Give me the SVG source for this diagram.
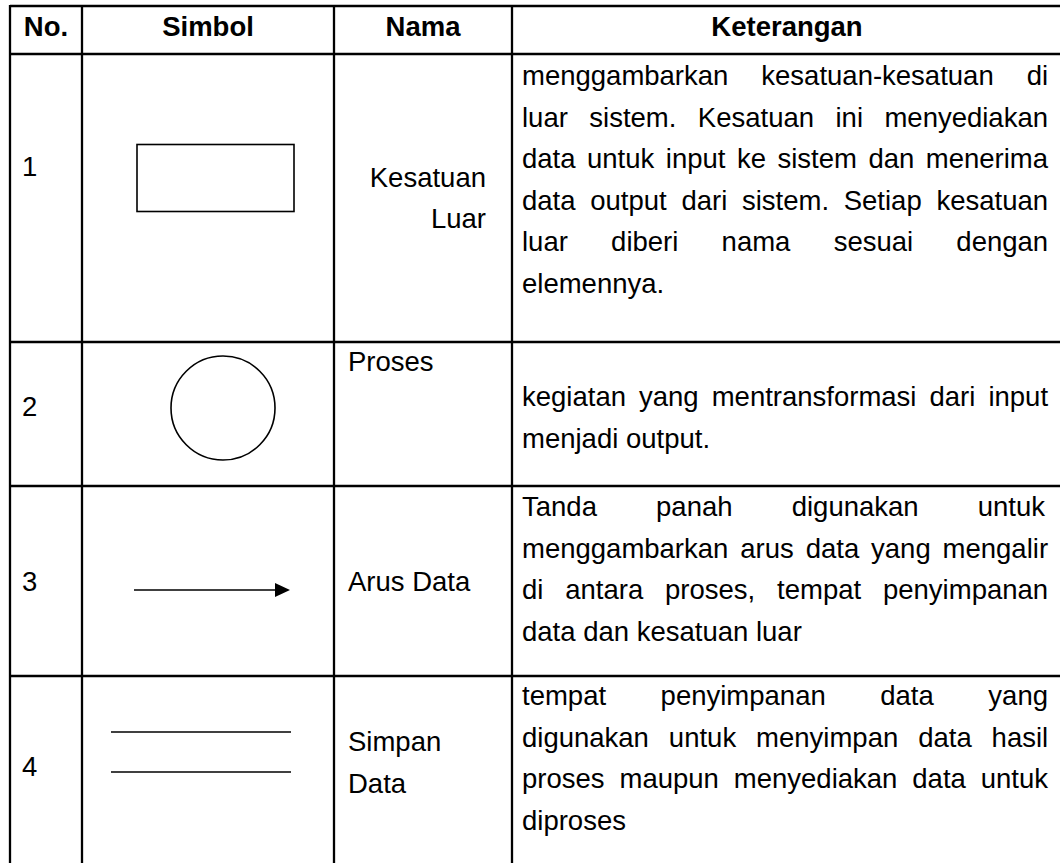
<svg xmlns="http://www.w3.org/2000/svg" width="1060" height="863" viewBox="0 0 1060 863">
<style>
.grid{stroke:#000;stroke-width:2.3;fill:none}
.sym{stroke:#000;stroke-width:1.6;fill:none}
text{font-family:"Liberation Sans",Arial,sans-serif;font-size:27.5px;fill:#000}
.h{font-weight:bold;text-anchor:middle}
</style>
<rect x="0" y="0" width="1060" height="863" fill="#fff"/>
<g id="grid">
<line class="grid" x1="10" y1="6" x2="1062" y2="6"/>
<line class="grid" x1="10" y1="54" x2="1062" y2="54"/>
<line class="grid" x1="10" y1="342" x2="1062" y2="342"/>
<line class="grid" x1="10" y1="486" x2="1062" y2="486"/>
<line class="grid" x1="10" y1="676" x2="1062" y2="676"/>
<line class="grid" x1="10" y1="5" x2="10" y2="863"/>
<line class="grid" x1="82" y1="5" x2="82" y2="863"/>
<line class="grid" x1="334" y1="5" x2="334" y2="863"/>
<line class="grid" x1="512" y1="5" x2="512" y2="863"/>
</g>
<g id="header">
<text class="h" x="46" y="36">No.</text>
<text class="h" x="208" y="36">Simbol</text>
<text class="h" x="423" y="36">Nama</text>
<text class="h" x="787" y="36">Keterangan</text>
</g>
<g id="row1">
<text x="22" y="176">1</text>
<rect class="sym" x="137" y="144.5" width="157" height="67"/>
<text x="486" y="187" text-anchor="end">Kesatuan</text>
<text x="486" y="228" text-anchor="end">Luar</text>
<text x="522" y="85" word-spacing="25.3">menggambarkan kesatuan-kesatuan di</text>
<text x="522" y="126.5" word-spacing="13.8">luar sistem. Kesatuan ini menyediakan</text>
<text x="522" y="168" word-spacing="3.85">data untuk input ke sistem dan menerima</text>
<text x="522" y="209.5" word-spacing="7.06">data output dari sistem. Setiap kesatuan</text>
<text x="522" y="251" word-spacing="35.6">luar diberi nama sesuai dengan</text>
<text x="522" y="292.5">elemennya.</text>
</g>
<g id="row2">
<text x="22" y="416">2</text>
<circle class="sym" cx="223" cy="408" r="52"/>
<text x="348" y="371">Proses</text>
<text x="522" y="406" word-spacing="5.4">kegiatan yang mentransformasi dari input</text>
<text x="522" y="448">menjadi output.</text>
</g>
<g id="row3">
<text x="22" y="591">3</text>
<line class="sym" x1="134" y1="590" x2="277" y2="590"/>
<polygon points="275,583 290,590 275,597" fill="#000"/>
<text x="348" y="591">Arus Data</text>
<text x="522" y="516" word-spacing="51.5">Tanda panah digunakan untuk</text>
<text x="522" y="557.5" word-spacing="4.25">menggambarkan arus data yang mengalir</text>
<text x="522" y="599" word-spacing="14.2">di antara proses, tempat penyimpanan</text>
<text x="522" y="640.5">data dan kesatuan luar</text>
</g>
<g id="row4">
<text x="22" y="776">4</text>
<line class="sym" x1="111" y1="732" x2="291" y2="732"/>
<line class="sym" x1="111" y1="772" x2="291" y2="772"/>
<text x="348" y="751">Simpan</text>
<text x="348" y="793">Data</text>
<text x="522" y="705" word-spacing="46.9">tempat penyimpanan data yang</text>
<text x="522" y="746.5" word-spacing="12.3">digunakan untuk menyimpan data hasil</text>
<text x="522" y="788" word-spacing="7.3">proses maupun menyediakan data untuk</text>
<text x="522" y="829.5">diproses</text>
</g>
</svg>
